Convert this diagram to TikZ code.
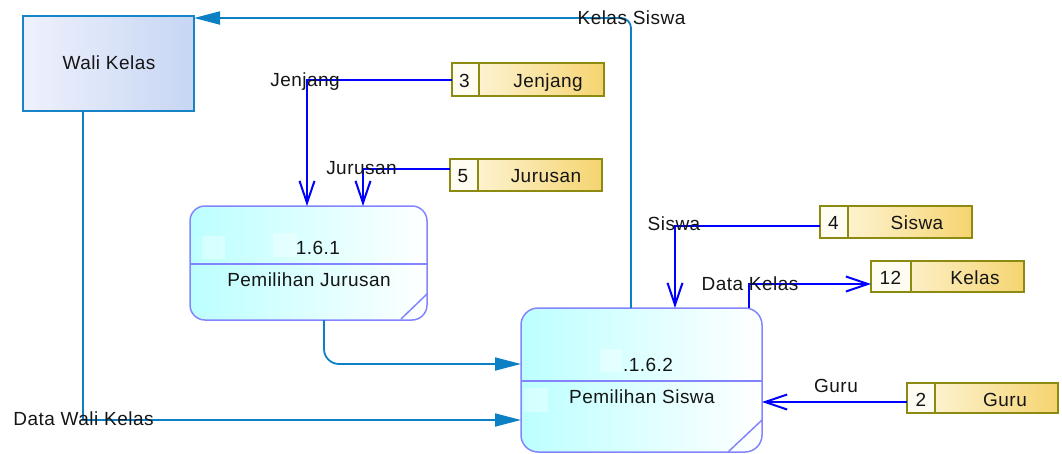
\documentclass[tikz,border=0pt]{standalone}
\usepackage{fontspec}
\setmainfont{Liberation Sans}[LetterSpace=2.5]
\usetikzlibrary{arrows.meta}

\definecolor{entborder}{HTML}{1684C6}
\definecolor{entleft}{HTML}{EFF1FD}
\definecolor{entright}{HTML}{C6D6F4}
\definecolor{procborder}{HTML}{8484FF}
\definecolor{procleft}{HTML}{BCFFFF}
\definecolor{storeborder}{HTML}{8C8A10}
\definecolor{storecream}{HTML}{FFFDF2}
\definecolor{storeleft}{HTML}{FFF9E4}
\definecolor{storeright}{HTML}{F5D470}
\definecolor{tealflow}{HTML}{0C80C4}
\definecolor{blueflow}{HTML}{0000FF}
\definecolor{ink}{HTML}{151515}

\tikzset{
  txt/.style={font=\fontsize{19}{22}\selectfont, text=ink, inner sep=0pt, anchor=base},
  entity/.style={draw=entborder, line width=1.8pt, left color=entleft, right color=entright,
                 minimum width=171pt, minimum height=95pt, inner sep=0pt, outer sep=0pt},
  process/.style={draw=procborder, line width=1.5pt, left color=procleft, right color=white,
                  rounded corners=15pt, inner sep=0pt, outer sep=0pt},
  store/.style={draw=storeborder, line width=1.6pt, left color=storeleft, right color=storeright,
                inner sep=0pt, outer sep=0pt},
  cell/.style={fill=storecream, draw=storeborder, line width=1.6pt},
  tflow/.style={draw=tealflow, line width=1.8pt, -{Triangle[length=26pt,width=13pt]}},
  bflow/.style={draw=blueflow, line width=2pt, -{Straight Barb[length=22pt,width=15pt]}},
  glint/.style={fill=white, fill opacity=0.35, draw=none},
}

\begin{document}
\begin{tikzpicture}[x=1pt, y=-1pt]
\useasboundingbox (0,0) rectangle (1062,453);

% external entity
\node[entity] (wk) at (108.5,63.5) {};
\node[txt] (wkt) at (109,69) {Wali Kelas};

% process 1.6.1
\node[process, minimum width=237pt, minimum height=114pt] (p161) at (308.5,263) {};
\fill[glint] (202,236) rectangle (225,259);
\fill[glint] (273,233) rectangle (297,257);
\draw[procborder, line width=1.5pt] (p161.west |- 0,264) -- (p161.east |- 0,264);
\draw[procborder, line width=1.5pt] (401,319) -- (427,294);
\node[txt] (p161n) at (318,254.3) {1.6.1};
\node[txt] (p161t) at (309,286) {Pemilihan Jurusan};

% process 1.6.2
\node[process, minimum width=241pt, minimum height=144pt, rounded corners=17pt] (p162) at (641.5,380) {};
\fill[glint] (600,349) rectangle (622,372);
\fill[glint] (524,388) rectangle (548,412);
\draw[procborder, line width=1.5pt] (p162.west |- 0,381) -- (p162.east |- 0,381);
\draw[procborder, line width=1.5pt] (728,452) -- (762,420);
\node[txt] (p162n) at (648,371) {.1.6.2};
\node[txt] (p162t) at (642,403.3) {Pemilihan Siswa};

% data stores
\node[store, minimum width=152pt, minimum height=33pt] (s3) at (528,79.5) {};
\draw[cell] (s3.north west) rectangle ([xshift=27pt]s3.south west);
\node[txt] (s3n) at (464.5,87.5) {3};
\node[txt] (s3t) at (548,87.5) {Jenjang};

\node[store, minimum width=152pt, minimum height=32pt] (s5) at (526,175) {};
\draw[cell] (s5.north west) rectangle ([xshift=28pt]s5.south west);
\node[txt] (s5n) at (463,182.7) {5};
\node[txt] (s5t) at (546,182.7) {Jurusan};

\node[store, minimum width=152pt, minimum height=32pt] (s4) at (896,222) {};
\draw[cell] (s4.north west) rectangle ([xshift=28pt]s4.south west);
\node[txt] (s4n) at (833.5,229) {4};
\node[txt] (s4t) at (917,229) {Siswa};

\node[store, minimum width=153pt, minimum height=31pt] (s12) at (947.5,276.5) {};
\draw[cell] (s12.north west) rectangle ([xshift=40pt]s12.south west);
\node[txt] (s12n) at (890.5,284.3) {12};
\node[txt] (s12t) at (975,284.3) {Kelas};

\node[store, minimum width=151pt, minimum height=30pt] (s2) at (982.5,398) {};
\draw[cell] (s2.north west) rectangle ([xshift=28pt]s2.south west);
\node[txt] (s2n) at (921,406.5) {2};
\node[txt] (s2t) at (1005,406.5) {Guru};

% data flows between entity and processes
\draw[tflow, rounded corners=10pt] ([xshift=-10.5pt]p162.north) |- ([yshift=-2pt]wk.north east);
\draw[tflow] ([xshift=-25.5pt]wk.south) |- ([yshift=-40pt]p162.west);
\draw[tflow, rounded corners=15pt] ([xshift=15.5pt]p161.south) |- ([yshift=16pt]p162.west);

% data flows from and to the stores
\draw[bflow] ([yshift=-0.5pt]s3.west) -| ([xshift=-1.5pt]p161.north);
\draw[bflow] ([yshift=6pt]s5.west) -| ([xshift=54.5pt]p161.north);
\draw[bflow] ([yshift=-4pt]s4.west) -| ([xshift=33.5pt]p162.north);
\draw[bflow] ([xshift=107.5pt]p162.north) |- ([yshift=-7.5pt]s12.west);
\draw[bflow] ([yshift=-4pt]s2.west) coordinate (g0) -- (g0 -| p162.east);

% flow labels
\node[txt] (lks) at (631.5,24) {Kelas Siswa};
\node[txt] (ldwk) at (83.5,425) {Data Wali Kelas};
\node[txt] (ljen) at (305,86) {Jenjang};
\node[txt] (ljur) at (361.5,174) {Jurusan};
\node[txt] (lsis) at (674,230.7) {Siswa};
\node[txt] (ldk) at (750,290) {Data Kelas};
\node[txt] (lgur) at (836,392.3) {Guru};
\end{tikzpicture}
\end{document}
